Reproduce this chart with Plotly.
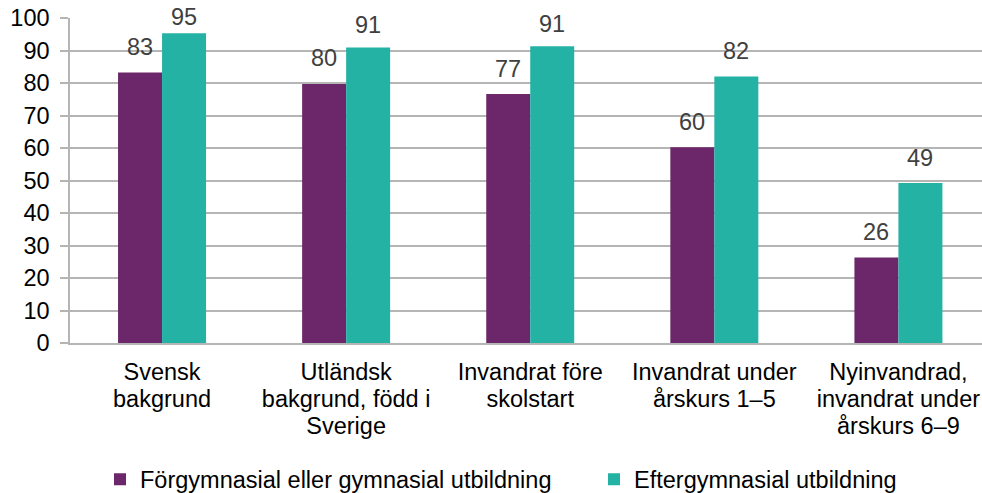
import plotly.graph_objects as go

categories = [
    "Svensk<br>bakgrund",
    "Utländsk<br>bakgrund, född i<br>Sverige",
    "Invandrat före<br>skolstart",
    "Invandrat under<br>årskurs 1–5",
    "Nyinvandrad,<br>invandrat under<br>årskurs 6–9",
]
series_names = ["Förgymnasial eller gymnasial utbildning", "Eftergymnasial utbildning"]
forgymnasial = [83.2, 79.7, 76.6, 60.2, 26.3]
eftergymnasial = [95.3, 90.9, 91.3, 82.0, 49.2]
y_ticks = list(range(0, 101, 10))

colors = ["#6B2769", "#24B2A5"]
FONT = "Liberation Sans, Arial, sans-serif"
GRID = "#B5B5B5"
FS = 23.5

# tick text: glyphs at FS, tighter line spacing via smaller base font
tick_text = ["<br>".join(f'<span style="font-size:{FS}px">{p}</span>' for p in c.split("<br>"))
             for c in categories]

fig = go.Figure()
for k, (name, vals, col) in enumerate(zip(series_names, [forgymnasial, eftergymnasial], colors)):
    fig.add_trace(go.Bar(
        x=categories, y=vals, name=name,
        marker=dict(color=col, line=dict(width=0)),
        legendwidth=449 if k == 0 else None,
        hoverinfo="skip",
    ))

# data labels
for vals, xs in zip([forgymnasial, eftergymnasial], [-22, 22]):
    for c, v in zip(categories, vals):
        gap = 16.5 - max(0.0, v - 89) * 1.5
        fig.add_annotation(
            x=c, y=v, xref="x", yref="y", text=str(round(v)),
            showarrow=False, yanchor="bottom", xshift=xs,
            yshift=gap - 6,
            font=dict(family=FONT, size=FS, color="#404040"),
        )

fig.update_layout(
    width=982, height=493,
    margin=dict(l=70, r=0, t=18, b=150, autoexpand=False),
    paper_bgcolor="white", plot_bgcolor="white",
    barmode="group", bargap=0.522, bargroupgap=0,
    font=dict(family=FONT, size=FS, color="#000000"),
    showlegend=True,
    legend=dict(
        orientation="h", x=0.0329, xanchor="left", y=-0.42, yanchor="middle",
        font=dict(family=FONT, size=FS, color="#000000"),
        itemwidth=30, traceorder="normal",
    ),
)
fig.update_xaxes(
    range=[-0.5, 4.454],
    tickvals=categories, ticktext=tick_text,
    showline=True, linecolor=GRID, linewidth=1.5, automargin=False,
    showgrid=False, ticks="", ticklabelstandoff=11,
    tickfont=dict(family=FONT, size=20.5, color="#000000"),
)
fig.update_yaxes(
    range=[0, 100], tickvals=y_ticks, showline=True, linecolor=GRID, linewidth=1.5,
    showgrid=True, gridcolor=GRID, gridwidth=1.5, zeroline=False, automargin=False,
    ticks="outside", ticklen=8, tickcolor=GRID, tickwidth=1.5, ticklabelstandoff=6,
    tickfont=dict(family=FONT, size=FS, color="#000000"),
)

fig.write_html("out.html", config={"displayModeBar": False},
               post_script="document.body.style.margin='0';")
